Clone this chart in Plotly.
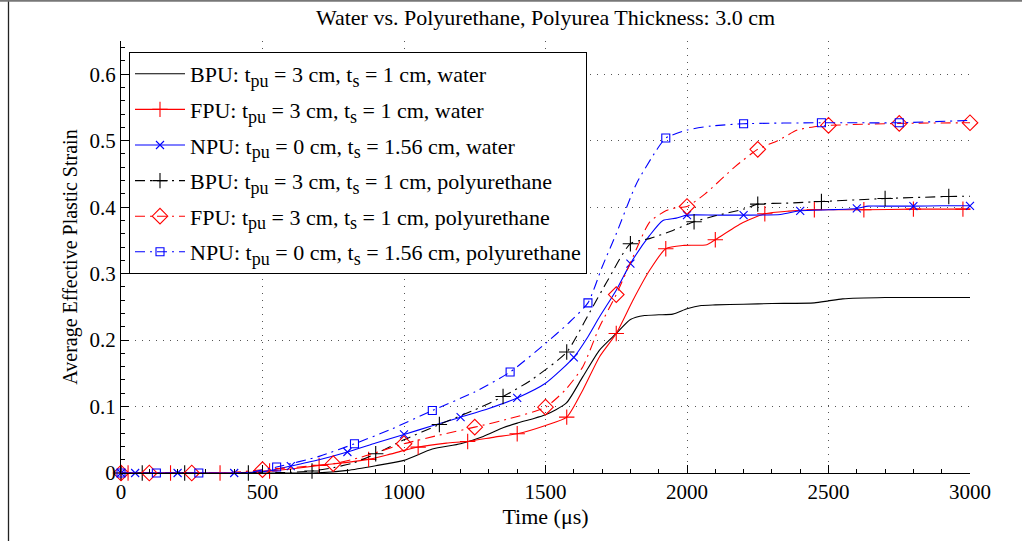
import plotly.graph_objects as go

# ---- data: time (microseconds) and average effective plastic strain ----
# BPU, water
t_bpu_w = [0, 500, 680, 800, 900, 1000, 1100, 1200, 1280, 1350, 1400, 1450, 1500, 1573, 1632,
           1691, 1750, 1800, 1850, 1900, 1950, 2000, 2050, 2100, 2200, 2300, 2450, 2500, 2550,
           2700, 3000]
v_bpu_w = [0, 0, 0, 0.004, 0.011, 0.019, 0.036, 0.044, 0.055, 0.068, 0.075, 0.081, 0.0875, 0.105,
           0.145, 0.185, 0.21, 0.231, 0.237, 0.238, 0.239, 0.247, 0.252, 0.253, 0.254, 0.255,
           0.256, 0.259, 0.262, 0.264, 0.264]
m_bpu_w = []

# FPU, water
t_fpu_w = [0, 25, 175, 350, 450, 525, 600, 700, 800, 875, 940, 1000, 1050, 1150, 1225, 1320, 1400,
           1500, 1575, 1632, 1691, 1750, 1809, 1868, 1925, 1990, 2070, 2100, 2190, 2275, 2360,
           2450, 2625, 2800, 2975, 3000]
v_fpu_w = [0, 0, 0, 0, 0.001, 0.003, 0.006, 0.0115, 0.016, 0.0205, 0.027, 0.034, 0.039, 0.045,
           0.0475, 0.054, 0.059, 0.0716, 0.084, 0.125, 0.175, 0.21, 0.26, 0.305, 0.3375, 0.3425,
           0.3435, 0.351, 0.375, 0.39, 0.394, 0.396, 0.396, 0.397, 0.397, 0.397]
m_fpu_w = [0, 25, 175, 350, 525, 700, 875, 1050, 1225, 1400, 1575, 1750, 1925, 2100, 2275, 2450,
           2625, 2800, 2975]

# NPU, water
t_npu_w = [0, 50, 200, 400, 480, 530, 600, 700, 800, 900, 1000, 1100, 1200, 1300, 1400, 1500,
           1600, 1650, 1691, 1750, 1800, 1868, 1915, 1962, 2000, 2100, 2200, 2330, 2400, 2500,
           2600, 2640, 2700, 2800, 2900, 3000]
v_npu_w = [0, 0, 0, 0, 0.001, 0.004, 0.0105, 0.02, 0.0316, 0.045, 0.058, 0.071, 0.084, 0.097,
           0.113, 0.135, 0.174, 0.205, 0.235, 0.275, 0.315, 0.3575, 0.38, 0.3835, 0.388, 0.388,
           0.388, 0.389, 0.3945, 0.396, 0.398, 0.4015, 0.4015, 0.4015, 0.402, 0.402]
m_npu_w = [0, 50, 200, 400, 600, 800, 1000, 1200, 1400, 1600, 1800, 2000, 2200, 2400, 2600, 2800,
           3000]

# BPU, polyurethane
t_bpu_p = [0, 75, 225, 450, 600, 675, 750, 820, 900, 1000, 1125, 1250, 1350, 1450, 1575, 1650,
           1720, 1800, 1870, 1950, 2025, 2100, 2200, 2250, 2350, 2475, 2700, 2925, 3000]
v_bpu_p = [0, 0, 0, 0, 0.001, 0.003, 0.008, 0.015, 0.029, 0.05, 0.073, 0.095, 0.115, 0.14, 0.182,
           0.237, 0.29, 0.345, 0.353, 0.365, 0.378, 0.387, 0.397, 0.4045, 0.406, 0.4085, 0.413,
           0.416, 0.4165]
m_bpu_p = [0, 75, 225, 450, 675, 900, 1125, 1350, 1575, 1800, 2025, 2250, 2475, 2700, 2925]

# FPU, polyurethane
t_fpu_p = [0, 100, 250, 400, 500, 600, 750, 850, 1000, 1125, 1250, 1375, 1500, 1570, 1632, 1691,
           1750, 1809, 1868, 1927, 1960, 2000, 2064, 2170, 2250, 2320, 2390, 2450, 2500, 2750,
           3000]
v_fpu_p = [0, 0, 0, 0.001, 0.005, 0.008, 0.014, 0.024, 0.044, 0.057, 0.069, 0.082, 0.099, 0.125,
           0.16, 0.22, 0.2685, 0.325, 0.3775, 0.395, 0.399, 0.401, 0.42, 0.461, 0.487, 0.50,
           0.516, 0.521, 0.523, 0.526, 0.527]
m_fpu_p = [0, 100, 250, 500, 750, 1000, 1250, 1500, 1750, 2000, 2250, 2500, 2750, 3000]

# NPU, polyurethane
t_npu_p = [0, 125, 275, 450, 550, 700, 825, 950, 1100, 1250, 1375, 1500, 1580, 1650, 1700, 1750,
           1821, 1891, 1925, 2000, 2084, 2200, 2475, 2750, 3000]
v_npu_p = [0, 0, 0, 0.001, 0.009, 0.025, 0.044, 0.065, 0.094, 0.122, 0.152, 0.195, 0.225, 0.256,
           0.31, 0.36, 0.435, 0.485, 0.504, 0.516, 0.522, 0.5255, 0.527, 0.527, 0.5306]
m_npu_p = [0, 125, 275, 550, 825, 1100, 1375, 1650, 1925, 2200, 2475, 2750]

SUB = '<sub><span style="font-size:18px">{}</span></sub>'
names = [
    f"BPU: t{SUB.format('pu')} = 3 cm, t{SUB.format('s')} = 1 cm, water",
    f"FPU: t{SUB.format('pu')} = 3 cm, t{SUB.format('s')} = 1 cm, water",
    f"NPU: t{SUB.format('pu')} = 0 cm, t{SUB.format('s')} = 1.56 cm, water",
    f"BPU: t{SUB.format('pu')} = 3 cm, t{SUB.format('s')} = 1 cm, polyurethane",
    f"FPU: t{SUB.format('pu')} = 3 cm, t{SUB.format('s')} = 1 cm, polyurethane",
    f"NPU: t{SUB.format('pu')} = 0 cm, t{SUB.format('s')} = 1.56 cm, polyurethane",
]
x_ticks = [0, 500, 1000, 1500, 2000, 2500, 3000]
y_ticks = [0, 0.1, 0.2, 0.3, 0.4, 0.5, 0.6]

DASHDOT = "10px,5px,2px,5px"
styles = [
    dict(color="#000000", dash="solid", symbol=None, size=0),
    dict(color="#ff0000", dash="solid", symbol="cross-thin", size=11),
    dict(color="#0000ff", dash="solid", symbol="x-thin", size=8),
    dict(color="#000000", dash=DASHDOT, symbol="cross-thin", size=11),
    dict(color="#ff0000", dash=DASHDOT, symbol="diamond-open", size=12),
    dict(color="#0000ff", dash=DASHDOT, symbol="square-open", size=8),
]
series = [
    (t_bpu_w, v_bpu_w, m_bpu_w),
    (t_fpu_w, v_fpu_w, m_fpu_w),
    (t_npu_w, v_npu_w, m_npu_w),
    (t_bpu_p, v_bpu_p, m_bpu_p),
    (t_fpu_p, v_fpu_p, m_fpu_p),
    (t_npu_p, v_npu_p, m_npu_p),
]

FONT = "Liberation Serif"
LW = 1.1
fig = go.Figure()

for i, ((t, v, marks), st, name) in enumerate(zip(series, styles, names)):
    col = st["color"]
    # smooth curve
    fig.add_trace(go.Scatter(
        x=t, y=v, mode="lines", showlegend=False,
        line=dict(color=col, width=LW, dash=st["dash"], shape="spline", smoothing=0.6),
        cliponaxis=False, hoverinfo="skip"))
    # markers at selected samples
    if marks:
        lookup = dict(zip(t, v))
        fig.add_trace(go.Scatter(
            x=marks, y=[lookup[m] for m in marks], mode="markers", showlegend=False,
            cliponaxis=False, hoverinfo="skip",
            marker=dict(symbol=st["symbol"], size=st["size"], color=col,
                        line=dict(color=col, width=LW))))
    # legend entry
    fig.add_trace(go.Scatter(
        x=[None], y=[None], mode="lines+markers" if st["symbol"] else "lines",
        name=name, legendgroup=f"g{i}",
        line=dict(color=col, width=LW, dash=st["dash"]),
        marker=dict(symbol=st["symbol"] or "circle", size=st["size"], color=col,
                    line=dict(color=col, width=LW))))

# outer frame of the figure
fig.add_shape(type="line", xref="paper", yref="paper",
              x0=(8.5 - 121) / 849, x1=(8.5 - 121) / 849, y0=(473 - 541) / 432, y1=(473 - 0) / 432,
              line=dict(color="#222222", width=1.3))
fig.add_shape(type="line", xref="paper", yref="paper",
              x0=(0 - 121) / 849, x1=(1022 - 121) / 849, y0=(473 - 0.8) / 432, y1=(473 - 0.8) / 432,
              line=dict(color="#777777", width=2))

axis_common = dict(
    showline=True, linecolor="black", linewidth=1, mirror=False,
    ticks="inside", ticklen=8, tickcolor="black", tickwidth=1,
    showgrid=True, gridcolor="#555555", griddash="1px,6px", gridwidth=1,
    zeroline=False, tickfont=dict(family=FONT, size=21, color="black"),
)

fig.update_layout(
    width=1022, height=541,
    margin=dict(l=121, r=52, t=41, b=68),
    paper_bgcolor="white", plot_bgcolor="white",
    font=dict(family=FONT, color="black"),
    title=dict(text="Water vs. Polyurethane, Polyurea Thickness: 3.0 cm",
               x=(545.5 / 1022), xanchor="center", y=1 - 17 / 541, yanchor="middle",
               font=dict(family=FONT, size=22, color="black")),
    xaxis=dict(range=[0, 3000], tickvals=x_ticks, ticktext=[str(x) for x in x_ticks],
               title=dict(text="Time (\u03bcs)", font=dict(family=FONT, size=22), standoff=0),
               minor=dict(ticks="inside", ticklen=4, tickcolor="black", dtick=100, showgrid=False),
               **axis_common),
    yaxis=dict(range=[0, 0.65], tickvals=y_ticks, ticktext=["0", "0.1", "0.2", "0.3", "0.4", "0.5", "0.6"],
               title=dict(text="Average Effective Plastic Strain", font=dict(family=FONT, size=20), standoff=6),
               minor=dict(ticks="inside", ticklen=4, tickcolor="black", dtick=0.02, showgrid=False),
               **axis_common),
    legend=dict(x=(129 - 121) / 849, y=1 - (52 - 41) / 432, xanchor="left", yanchor="top",
                bgcolor="white", bordercolor="black", borderwidth=1,
                font=dict(family=FONT, size=22, color="black"),
                itemwidth=50, tracegroupgap=4, traceorder="grouped"),
    showlegend=True,
)

fig.write_html("out.html")
